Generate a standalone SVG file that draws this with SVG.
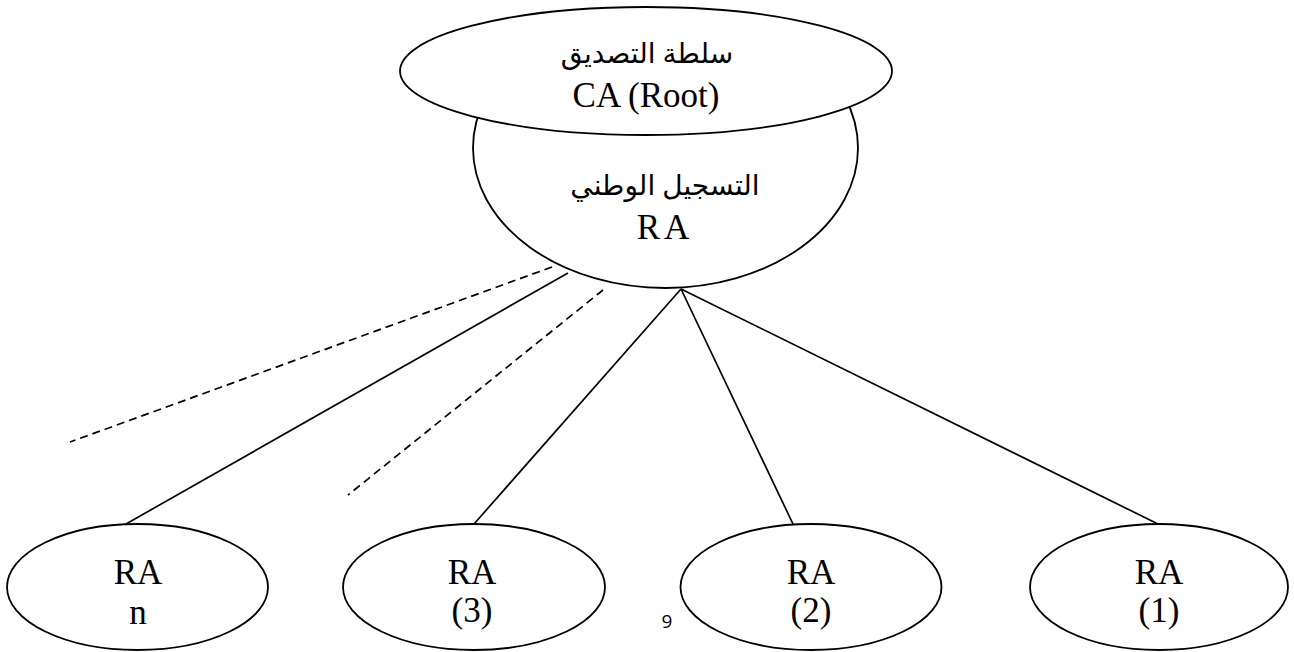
<svg xmlns="http://www.w3.org/2000/svg" width="1294" height="652" viewBox="0 0 1294 652">
<style>
.shape{fill:#fff;stroke:#000;stroke-width:1.8}
.ln{stroke:#000;stroke-width:1.7;fill:none}
.dash{stroke-dasharray:8 5}
.t{font-family:"Liberation Serif","Times New Roman",serif;font-size:35px;fill:#000;text-anchor:middle}
.ar{font-family:"Liberation Serif","DejaVu Sans",serif;font-size:28px;fill:#000;text-anchor:middle}
.pg{font-family:"Open Sans","Liberation Sans",sans-serif;font-size:19px;fill:#000;text-anchor:middle}
</style>
<rect width="1294" height="652" fill="#fff"/>
<g id="connectors">
<line class="ln dash" x1="552" y1="267" x2="70" y2="442"/>
<line class="ln" x1="568" y1="273" x2="126" y2="524"/>
<line class="ln dash" x1="603" y1="290" x2="348" y2="495"/>
<line class="ln" x1="681" y1="289" x2="474" y2="524"/>
<line class="ln" x1="681" y1="289" x2="793" y2="524"/>
<line class="ln" x1="681" y1="289" x2="1158" y2="524"/>
</g>
<g id="ra-national">
<ellipse class="shape" cx="665.5" cy="148" rx="192.5" ry="140"/>
<text class="ar" x="665" y="195" direction="rtl">التسجيل الوطني</text>
<text class="t" x="665" y="239" letter-spacing="4">RA</text>
</g>
<g id="ca-root">
<ellipse class="shape" cx="646" cy="71" rx="246" ry="64"/>
<text class="ar" x="647" y="63" direction="rtl">سلطة التصديق</text>
<text class="t" x="646" y="107">CA (Root)</text>
</g>
<g id="ra-n">
<ellipse class="shape" cx="137.5" cy="587" rx="130.5" ry="63"/>
<text class="t" x="138" y="584">RA</text>
<text class="t" x="138" y="624">n</text>
</g>
<g id="ra-3">
<ellipse class="shape" cx="474" cy="587" rx="131" ry="63"/>
<text class="t" x="472" y="584">RA</text>
<text class="t" x="472" y="622">(3)</text>
</g>
<g id="ra-2">
<ellipse class="shape" cx="811" cy="587" rx="130.5" ry="63"/>
<text class="t" x="811" y="584">RA</text>
<text class="t" x="811" y="622">(2)</text>
</g>
<g id="ra-1">
<ellipse class="shape" cx="1159" cy="587" rx="129" ry="63"/>
<text class="t" x="1159" y="584">RA</text>
<text class="t" x="1159" y="622">(1)</text>
</g>
<text class="pg" x="667" y="628">9</text>
</svg>
